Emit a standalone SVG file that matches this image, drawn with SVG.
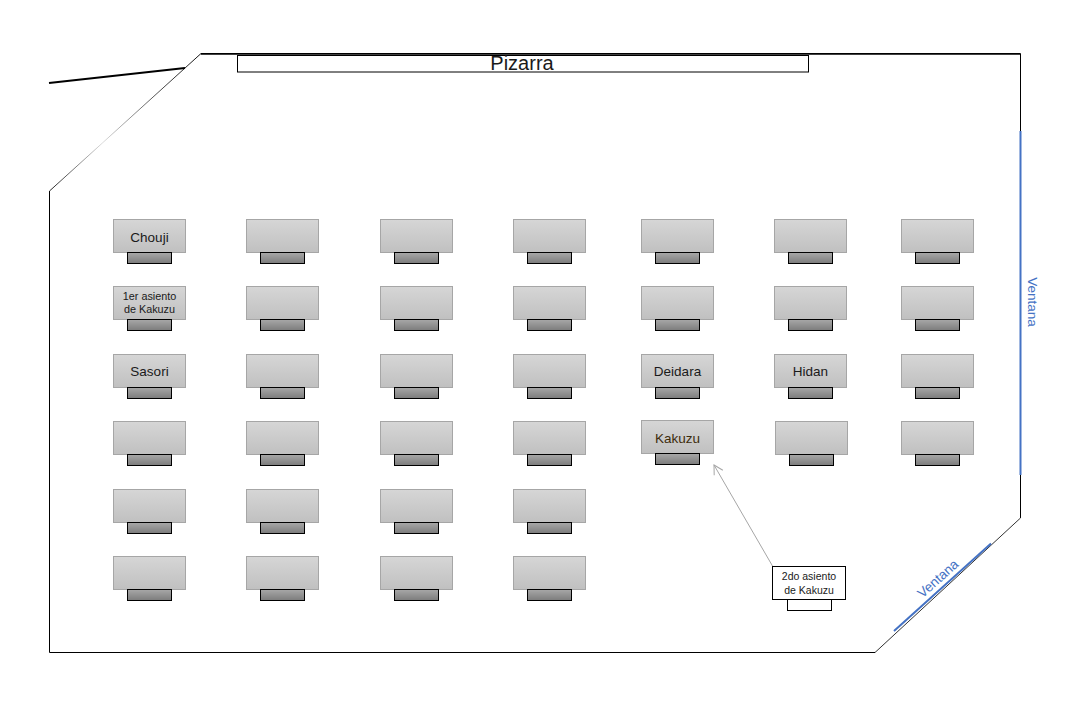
<svg xmlns="http://www.w3.org/2000/svg" width="1076" height="708" viewBox="0 0 1076 708">
<defs>
<linearGradient id="gDesk" x1="0" y1="0" x2="0" y2="1">
<stop offset="0" stop-color="#d6d6d6"/>
<stop offset="1" stop-color="#c0c0c0"/>
</linearGradient>
<linearGradient id="gChair" x1="0" y1="0" x2="0" y2="1">
<stop offset="0" stop-color="#a8a8a8"/>
<stop offset="1" stop-color="#7c7c7c"/>
</linearGradient>
<linearGradient id="gDiag" x1="49" y1="191" x2="201" y2="53" gradientUnits="userSpaceOnUse">
<stop offset="0" stop-color="#222"/>
<stop offset="0.35" stop-color="#ddd"/>
<stop offset="0.7" stop-color="#555"/>
<stop offset="1" stop-color="#111"/>
</linearGradient>
<marker id="arrOpen" markerWidth="12" markerHeight="12" refX="10" refY="6" orient="auto" markerUnits="userSpaceOnUse">
<path d="M1,1 L10,6 L1,11" fill="none" stroke="#a6a6a6" stroke-width="1"/>
</marker>
<g id="desk">
<rect x="0" y="0" width="72" height="33" fill="url(#gDesk)" stroke="#a6a6a6" stroke-width="1"/>
<rect x="14" y="33" width="44" height="11" fill="url(#gChair)" stroke="#000" stroke-width="1"/>
</g>
</defs>
<style>
.t{font-family:"Liberation Sans",Arial,sans-serif;fill:#1a1a1a;text-anchor:middle}
.win{font-family:"Liberation Sans",Arial,sans-serif;fill:#4472c4;text-anchor:middle;font-size:13.5px}
</style>
<rect width="1076" height="708" fill="#fff"/>
<g id="room">
<path d="M201,53.5 L1020.5,53.5 L1020.5,518" fill="none" stroke="#000" stroke-width="1"/>
<path d="M49.5,191 L49.5,652.5 L875,652.5" fill="none" stroke="#000" stroke-width="1"/>
<line x1="49.5" y1="191" x2="201" y2="53.5" stroke="url(#gDiag)" stroke-width="1"/>
<line x1="875" y1="652.5" x2="1020.5" y2="518" stroke="#333" stroke-width="1"/>
<line x1="49" y1="83" x2="185" y2="68" stroke="#000" stroke-width="2"/>
<line x1="201" y1="54" x2="1020" y2="54" stroke="#000" stroke-width="1.5"/>
</g>
<g id="pizarra">
<rect x="237.5" y="55.5" width="571" height="16.5" fill="#fff" stroke="#000" stroke-width="1"/>
<text class="t" x="522" y="70" font-size="20" fill="#000">Pizarra</text>
</g>
<g id="ventana-derecha">
<line x1="1020.5" y1="131" x2="1020.5" y2="475" stroke="#4472c4" stroke-width="2"/>
<text class="win" transform="translate(1028,302) rotate(90)">Ventana</text>
</g>
<g id="ventana-diagonal">
<line x1="894" y1="631" x2="991" y2="543.5" stroke="#4472c4" stroke-width="2"/>
<text class="win" transform="translate(941,582) rotate(-42)">Ventana</text>
</g>
<g id="desks">
<use href="#desk" x="113.5" y="219.5"/><use href="#desk" x="246.5" y="219.5"/><use href="#desk" x="380.5" y="219.5"/><use href="#desk" x="513.5" y="219.5"/><use href="#desk" x="641.5" y="219.5"/><use href="#desk" x="774.5" y="219.5"/><use href="#desk" x="901.5" y="219.5"/>
<use href="#desk" x="113.5" y="286.5"/><use href="#desk" x="246.5" y="286.5"/><use href="#desk" x="380.5" y="286.5"/><use href="#desk" x="513.5" y="286.5"/><use href="#desk" x="641.5" y="286.5"/><use href="#desk" x="774.5" y="286.5"/><use href="#desk" x="901.5" y="286.5"/>
<use href="#desk" x="113.5" y="354.5"/><use href="#desk" x="246.5" y="354.5"/><use href="#desk" x="380.5" y="354.5"/><use href="#desk" x="513.5" y="354.5"/><use href="#desk" x="641.5" y="354.5"/><use href="#desk" x="774.5" y="354.5"/><use href="#desk" x="901.5" y="354.5"/>
<use href="#desk" x="113.5" y="421.5"/><use href="#desk" x="246.5" y="421.5"/><use href="#desk" x="380.5" y="421.5"/><use href="#desk" x="513.5" y="421.5"/><use href="#desk" x="641.5" y="420.5"/><use href="#desk" x="775.5" y="421.5"/><use href="#desk" x="901.5" y="421.5"/>
<use href="#desk" x="113.5" y="489.5"/><use href="#desk" x="246.5" y="489.5"/><use href="#desk" x="380.5" y="489.5"/><use href="#desk" x="513.5" y="489.5"/>
<use href="#desk" x="113.5" y="556.5"/><use href="#desk" x="246.5" y="556.5"/><use href="#desk" x="380.5" y="556.5"/><use href="#desk" x="513.5" y="556.5"/>
</g>
<g id="labels">
<text class="t" x="149.5" y="241.5" font-size="13.5">Chouji</text>
<text class="t" x="149.5" y="300" font-size="10.8">1er asiento</text>
<text class="t" x="149.5" y="313" font-size="10.8">de Kakuzu</text>
<text class="t" x="149.5" y="376" font-size="13.5">Sasori</text>
<text class="t" x="677.5" y="376" font-size="13.5">Deidara</text>
<text class="t" x="810.5" y="376" font-size="13.5">Hidan</text>
<text class="t" x="677.5" y="443" font-size="13.5" style="fill:#3d2c0c">Kakuzu</text>
</g>
<g id="segundo-asiento">
<rect x="772.5" y="566.5" width="73" height="33" fill="#fff" stroke="#000" stroke-width="1"/>
<rect x="787.5" y="599.5" width="44" height="11" fill="#fff" stroke="#000" stroke-width="1"/>
<text class="t" x="809" y="580" font-size="10.5">2do asiento</text>
<text class="t" x="809" y="593.5" font-size="10.5">de Kakuzu</text>
</g>
<g id="connectors">
<line x1="772.5" y1="566" x2="714" y2="465" stroke="#a6a6a6" stroke-width="1" marker-end="url(#arrOpen)"/>
</g>
</svg>
